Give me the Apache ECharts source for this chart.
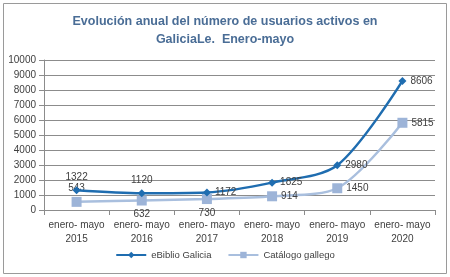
<!DOCTYPE html>
<html>
<head>
<meta charset="utf-8">
<script src="https://cdn.jsdelivr.net/npm/echarts@6/dist/echarts.min.js"></script>
<style>
  html, body { margin: 0; padding: 0; background: #fff; }
  #chart { width: 450px; height: 277px; }
</style>
</head>
<body>
<div id="chart"></div>
<script>
const categories = ['enero- mayo\n2015', 'enero- mayo\n2016', 'enero- mayo\n2017', 'enero- mayo\n2018', 'enero- mayo\n2019', 'enero- mayo\n2020']
const eBiblio = [1322, 1120, 1172, 1825, 2980, 8606]
const catalogo = [543, 632, 730, 914, 1450, 5815]
const yTicks = { min: 0, max: 10000, interval: 1000 }

const eBiblioLabelPos = ['top', 'top', 'right', 'right', 'right', 'right']
const catalogoLabelPos = ['top', 'bottom', 'bottom', 'right', 'right', 'right']

const chart = echarts.init(document.getElementById('chart'))
const font = 'Liberation Sans, Arial, sans-serif'

const withLabels = (values, positions) =>
  values.map((v, i) => ({ value: v, label: { position: positions[i] } }))

chart.setOption({
  animation: false,
  textStyle: { fontFamily: font },
  title: {
    text: 'Evolución anual del número de usuarios activos en\nGaliciaLe.  Enero-mayo',
    left: 'center',
    top: 8,
    textStyle: { fontSize: 12.5, fontWeight: 'bold', color: '#4a6d96', lineHeight: 18, fontFamily: font },
  },
  graphic: [
    {
      type: 'rect',
      shape: { x: 3.5, y: 3.5, width: 443, height: 270 },
      style: { fill: 'none', stroke: '#9a9a9a', lineWidth: 1 },
      silent: true,
    },
  ],
  legend: {
    bottom: 12,
    left: 'center',
    itemWidth: 30,
    itemHeight: 8,
    itemGap: 16,
    textStyle: { fontSize: 9.5, color: '#404040' },
    data: ['eBiblio Galicia', 'Catálogo gallego'],
  },
  grid: { left: 44, right: 15, top: 60, bottom: 67 },
  xAxis: {
    type: 'category',
    data: categories,
    axisLine: { lineStyle: { color: '#8c8c8c' } },
    axisTick: { show: true, lineStyle: { color: '#8c8c8c' } },
    axisLabel: { color: '#404040', fontSize: 10, lineHeight: 14, interval: 0 },
  },
  yAxis: {
    type: 'value',
    min: yTicks.min,
    max: yTicks.max,
    interval: yTicks.interval,
    axisLine: { show: true, lineStyle: { color: '#8c8c8c' } },
    axisTick: { show: true, lineStyle: { color: '#8c8c8c' } },
    axisLabel: { color: '#404040', fontSize: 10, formatter: (v) => String(v) },
    splitLine: { lineStyle: { color: '#8c8c8c' } },
  },
  series: [
    {
      name: 'eBiblio Galicia',
      type: 'line',
      smooth: 0.3,
      data: withLabels(eBiblio, eBiblioLabelPos),
      symbol: 'diamond',
      symbolSize: 8,
      lineStyle: { color: '#1f6db0', width: 2.5 },
      itemStyle: { color: '#1f6db0' },
      label: { show: true, color: '#404040', fontSize: 10, distance: 4 },
      z: 3,
    },
    {
      name: 'Catálogo gallego',
      type: 'line',
      smooth: 0.3,
      data: withLabels(catalogo, catalogoLabelPos),
      symbol: 'rect',
      symbolSize: 10,
      lineStyle: { color: '#a9bfde', width: 2.5 },
      itemStyle: { color: '#9db4d8' },
      label: { show: true, color: '#404040', fontSize: 10, distance: 4 },
      z: 2,
    },
  ],
})
</script>
</body>
</html>
